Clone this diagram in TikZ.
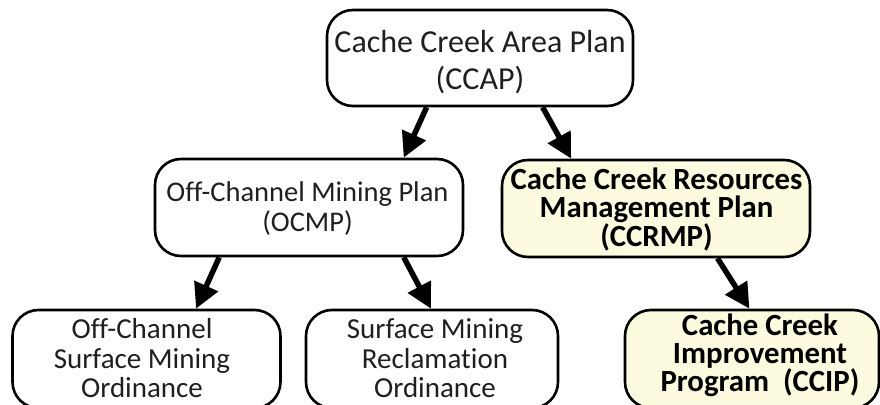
\documentclass[tikz,border=0pt]{standalone}
\usepackage{fontspec}
\setmainfont{Carlito}[Ligatures=NoCommon]
\usetikzlibrary{arrows.meta,calc}
\definecolor{boxyellow}{RGB}{252,251,224}
\tikzset{
  plainbox/.style={draw=black, line width=2.6pt, rounded corners=26pt, fill=white, inner sep=0pt},
  yellowbox/.style={plainbox, fill=boxyellow},
  boxtext/.style={align=center, inner sep=0pt, text=black!88},
  boldtext/.style={boxtext, text=black, font=\bfseries\fontsize{30.8}{28}\selectfont},
  bigarrow/.style={line width=5.5pt, -{Triangle[length=25pt,width=25pt]}}
}
\begin{document}
\begin{tikzpicture}[x=1pt,y=-1pt]
\useasboundingbox (0,0) rectangle (880,404);
\clip (0,0) rectangle (880,404);
\fill[white] (0,0) rectangle (880,404);
% boxes
\node[plainbox, minimum width=306pt, minimum height=96pt] (ccap) at (480,58) {};
\node[plainbox, minimum width=308pt, minimum height=97pt] (ocmp) at (309,207.5) {};
\node[yellowbox, minimum width=308pt, minimum height=97pt] (ccrmp) at (656,208.5) {};
\node[plainbox, minimum width=268pt, minimum height=98pt] (ocsmo) at (146.5,359) {};
\node[plainbox, minimum width=252pt, minimum height=98pt] (smro) at (432,359) {};
\node[yellowbox, minimum width=254pt, minimum height=98pt] (ccip) at (752,359) {};
% texts
\node[boxtext, font=\fontsize{32}{37}\selectfont] (ccapt) at (480,62) {Cache Creek Area Plan\\(CCAP)};
\node[boxtext, font=\fontsize{28.5}{30}\selectfont] (ocmpt) at (307.5,209) {Off-Channel Mining Plan\\(OCMP)};
\node[boldtext] (ccrmpt) at (656.5,209.5) {Cache Creek Resources\\Management Plan\\(CCRMP)};
\node[boxtext, font=\fontsize{29}{29.5}\selectfont] (ocsmot) at (142,358.5) {Off-Channel\\Surface Mining\\Ordinance};
\node[boxtext, font=\fontsize{29}{29.5}\selectfont] (smrot) at (435,358.5) {Surface Mining\\Reclamation\\Ordinance};
\node[boldtext, font=\bfseries\fontsize{30.8}{28}\selectfont] (ccipt) at (760,355.5) {Cache Creek\\Improvement\\Program~ (CCIP)};
% connectors
\draw[bigarrow] ($(ccap.south west)!0.327!(ccap.south east)$) -- ($(ocmp.north west)!0.805!(ocmp.north east)$);
\draw[bigarrow] ($(ccap.south west)!0.703!(ccap.south east)$) -- ($(ccrmp.north west)!0.227!(ccrmp.north east)$);
\draw[bigarrow] ($(ocmp.south west)!0.211!(ocmp.south east)$) -- ($(ocsmo.north west)!0.683!(ocsmo.north east)$);
\draw[bigarrow] ($(ocmp.south west)!0.805!(ocmp.south east)$) -- ($(smro.north west)!0.496!(smro.north east)$);
\draw[bigarrow] ($(ccrmp.south west)!0.698!(ccrmp.south east)$) -- ($(ccip.north west)!0.49!(ccip.north east)$);
\end{tikzpicture}
\end{document}
